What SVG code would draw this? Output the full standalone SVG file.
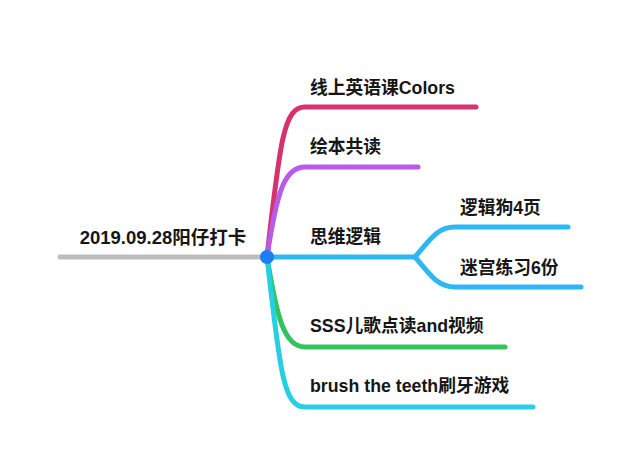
<svg xmlns="http://www.w3.org/2000/svg" width="640" height="467" viewBox="0 0 640 467">
<style>
.t{font-family:"Liberation Sans","Noto Sans CJK SC",sans-serif;font-size:17.75px;font-weight:600;fill:#161616}
.r{font-size:18.5px}
.c{fill:none;stroke-width:5;stroke-linecap:round;stroke-linejoin:round}
</style>
<rect width="640" height="467" fill="#fff"/>
<g id="connectors">
<path class="c" stroke="#bdbdbd" d="M60,257 L267,257"/>
<path class="c" stroke="#d6336c" d="M267,257 C280,140 284,107 305,107 L476,107"/>
<path class="c" stroke="#b85be9" d="M267,257 C277,190 285,167 305,167 L418,167"/>
<path class="c" stroke="#2db7f5" d="M267,257 L415,257"/>
<path class="c" stroke="#2db7f5" d="M415,257 C430,240 437,227 455,227 L568,227"/>
<path class="c" stroke="#2db7f5" d="M415,257 C430,274 437,287 455,287 L581,287"/>
<path class="c" stroke="#34c25c" d="M267,257 C277,320 285,347 305,347 L505,347"/>
<path class="c" stroke="#26d0e2" d="M267,257 C280,374 284,407 305,407 L533,407"/>
</g>
<g id="root">
<text class="t r" x="163" y="244" text-anchor="middle">2019.09.28阳仔打卡</text>
<circle cx="267" cy="257" r="7" fill="#1a7ff7"/>
</g>
<g id="n1"><text class="t" x="310" y="94">线上英语课Colors</text></g>
<g id="n2"><text class="t" x="310" y="153">绘本共读</text></g>
<g id="n3"><text class="t" x="310" y="243">思维逻辑</text></g>
<g id="n3a"><text class="t" x="460" y="214">逻辑狗4页</text></g>
<g id="n3b"><text class="t" x="460" y="274">迷宫练习6份</text></g>
<g id="n4"><text class="t" x="310" y="332">SSS儿歌点读and视频</text></g>
<g id="n5"><text class="t" x="310" y="392">brush the teeth刷牙游戏</text></g>
</svg>
